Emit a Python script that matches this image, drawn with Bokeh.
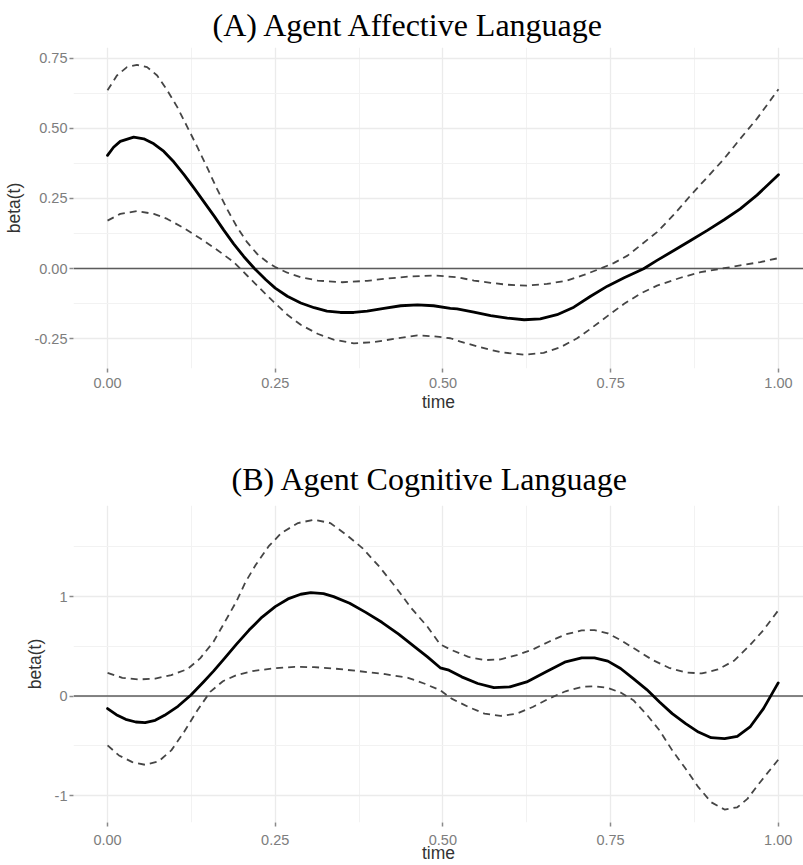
from bokeh.plotting import figure
from bokeh.layouts import column
from bokeh.models import Range1d, FixedTicker, Span, Title
from bokeh.embed import file_html
from bokeh.resources import INLINE

# ---------------- Panel A: Agent Affective Language ----------------
a_title = "(A) Agent Affective Language"

a_mean_t = [0.000, 0.009, 0.019, 0.039, 0.054, 0.069, 0.084, 0.099, 0.114, 0.129,
            0.144, 0.159, 0.173, 0.188, 0.203, 0.219, 0.236, 0.250, 0.268, 0.288,
            0.308, 0.327, 0.347, 0.367, 0.387, 0.412, 0.437, 0.462, 0.486, 0.511,
            0.521, 0.546, 0.571, 0.596, 0.621, 0.645, 0.670, 0.695, 0.720, 0.745,
            0.770, 0.799, 0.819, 0.844, 0.869, 0.894, 0.919, 0.943, 0.968, 1.000]
a_mean_v = [0.404, 0.433, 0.454, 0.469, 0.463, 0.445, 0.418, 0.380, 0.335, 0.287,
            0.237, 0.187, 0.138, 0.088, 0.043, 0.000, -0.040, -0.070, -0.099, -0.123,
            -0.140, -0.152, -0.157, -0.157, -0.152, -0.142, -0.133, -0.130, -0.133, -0.142,
            -0.144, -0.156, -0.168, -0.177, -0.183, -0.180, -0.165, -0.138, -0.099, -0.063,
            -0.033, -0.001, 0.029, 0.064, 0.100, 0.136, 0.174, 0.213, 0.262, 0.335]

a_upper_t = [0.000, 0.014, 0.029, 0.044, 0.059, 0.074, 0.089, 0.104, 0.119, 0.134,
             0.149, 0.163, 0.178, 0.193, 0.208, 0.223, 0.238, 0.250, 0.268, 0.288,
             0.313, 0.350, 0.387, 0.412, 0.449, 0.486, 0.521, 0.546, 0.571, 0.596,
             0.625, 0.655, 0.685, 0.710, 0.735, 0.755, 0.775, 0.794, 0.819, 0.844,
             0.869, 0.894, 0.919, 0.943, 0.968, 1.000]
a_upper_v = [0.636, 0.689, 0.719, 0.727, 0.719, 0.689, 0.636, 0.576, 0.505, 0.433,
             0.358, 0.285, 0.213, 0.148, 0.094, 0.052, 0.023, 0.005, -0.015, -0.031,
             -0.043, -0.049, -0.044, -0.037, -0.029, -0.025, -0.031, -0.043, -0.051, -0.058,
             -0.061, -0.055, -0.043, -0.023, 0.000, 0.020, 0.046, 0.082, 0.130, 0.192,
             0.261, 0.326, 0.392, 0.463, 0.535, 0.640]

a_lower_t = [0.000, 0.019, 0.044, 0.069, 0.089, 0.114, 0.139, 0.163, 0.188, 0.208,
             0.228, 0.248, 0.268, 0.288, 0.313, 0.337, 0.367, 0.397, 0.427, 0.462,
             0.486, 0.511, 0.526, 0.556, 0.586, 0.621, 0.650, 0.675, 0.700, 0.720,
             0.745, 0.770, 0.794, 0.819, 0.854, 0.884, 0.919, 0.943, 0.973, 1.000]
a_lower_v = [0.171, 0.195, 0.205, 0.195, 0.177, 0.144, 0.106, 0.067, 0.023, -0.025,
             -0.073, -0.120, -0.165, -0.201, -0.233, -0.254, -0.267, -0.263, -0.251, -0.239,
             -0.242, -0.249, -0.261, -0.281, -0.299, -0.308, -0.301, -0.281, -0.249, -0.215,
             -0.170, -0.126, -0.090, -0.061, -0.033, -0.013, 0.001, 0.011, 0.023, 0.037]

a_y_ticks = [-0.25, 0.0, 0.25, 0.50, 0.75]
a_y_labels = ["-0.25", "0.00", "0.25", "0.50", "0.75"]
a_y_minor = [-0.125, 0.125, 0.375, 0.625]

# ---------------- Panel B: Agent Cognitive Language ----------------
b_title = "(B) Agent Cognitive Language"

b_mean_t = [0.000, 0.013, 0.027, 0.042, 0.056, 0.071, 0.085, 0.105, 0.124, 0.143,
            0.158, 0.175, 0.192, 0.211, 0.230, 0.250, 0.269, 0.288, 0.303, 0.322,
            0.337, 0.361, 0.385, 0.409, 0.434, 0.458, 0.477, 0.496, 0.509, 0.528,
            0.552, 0.576, 0.600, 0.625, 0.654, 0.683, 0.707, 0.726, 0.746, 0.765,
            0.784, 0.804, 0.823, 0.842, 0.862, 0.881, 0.900, 0.920, 0.939, 0.958,
            0.978, 1.000]
b_mean_v = [-0.126, -0.187, -0.234, -0.261, -0.267, -0.244, -0.194, -0.103, 0.008, 0.142,
            0.250, 0.384, 0.519, 0.663, 0.791, 0.899, 0.976, 1.023, 1.040, 1.030,
            0.999, 0.932, 0.841, 0.741, 0.623, 0.495, 0.394, 0.284, 0.260, 0.193,
            0.126, 0.085, 0.092, 0.142, 0.243, 0.344, 0.384, 0.384, 0.351, 0.277,
            0.176, 0.065, -0.059, -0.177, -0.278, -0.362, -0.419, -0.429, -0.405, -0.311,
            -0.126, 0.132]

b_upper_t = [0.000, 0.022, 0.046, 0.071, 0.095, 0.119, 0.138, 0.158, 0.175, 0.192,
             0.206, 0.221, 0.240, 0.259, 0.284, 0.308, 0.332, 0.356, 0.380, 0.405,
             0.429, 0.453, 0.477, 0.496, 0.513, 0.538, 0.562, 0.586, 0.610, 0.634,
             0.658, 0.683, 0.707, 0.726, 0.746, 0.765, 0.789, 0.813, 0.837, 0.862,
             0.886, 0.910, 0.934, 0.958, 0.978, 1.000]
b_upper_v = [0.233, 0.183, 0.166, 0.176, 0.210, 0.270, 0.378, 0.546, 0.747, 0.949,
             1.150, 1.319, 1.503, 1.638, 1.739, 1.772, 1.739, 1.621, 1.487, 1.302,
             1.100, 0.882, 0.697, 0.519, 0.462, 0.394, 0.361, 0.368, 0.411, 0.468,
             0.546, 0.620, 0.660, 0.663, 0.630, 0.563, 0.462, 0.361, 0.284, 0.237,
             0.227, 0.267, 0.354, 0.512, 0.663, 0.860]

b_lower_t = [0.000, 0.017, 0.037, 0.056, 0.076, 0.095, 0.114, 0.134, 0.153, 0.172,
             0.192, 0.216, 0.245, 0.279, 0.308, 0.337, 0.375, 0.414, 0.448, 0.472,
             0.496, 0.513, 0.538, 0.562, 0.586, 0.610, 0.634, 0.658, 0.683, 0.707,
             0.726, 0.746, 0.765, 0.784, 0.804, 0.823, 0.842, 0.862, 0.881, 0.900,
             0.920, 0.939, 0.954, 0.973, 1.000]
b_lower_v = [-0.496, -0.597, -0.664, -0.691, -0.657, -0.546, -0.362, -0.143, 0.042, 0.149,
             0.210, 0.250, 0.277, 0.294, 0.290, 0.277, 0.250, 0.220, 0.183, 0.126,
             0.058, -0.026, -0.110, -0.177, -0.200, -0.177, -0.110, -0.026, 0.048, 0.092,
             0.099, 0.082, 0.035, -0.042, -0.187, -0.345, -0.546, -0.731, -0.916, -1.067,
             -1.141, -1.118, -1.034, -0.866, -0.640]

b_y_ticks = [-1, 0, 1]
b_y_labels = ["-1", "0", "1"]
b_y_minor = [-0.5, 0.5, 1.5]

# shared time axis
x_ticks = [0.0, 0.25, 0.50, 0.75, 1.0]
x_labels = ["0.00", "0.25", "0.50", "0.75", "1.00"]
x_minor = [0.125, 0.375, 0.625, 0.875]

SANS = "Liberation Sans"
SERIF = "Liberation Serif"
TICK_COLOR = "#7d7d7d"


def panel(title, mean_t, mean_v, up_t, up_v, lo_t, lo_v,
          y_ticks, y_labels, y_minor, x_range, y_range,
          height, border_left, border_top, border_bottom,
          title_offset, title_standoff, x_label_standoff, x_title_standoff):
    p = figure(width=803, height=height, x_range=Range1d(*x_range),
               y_range=Range1d(*y_range), output_backend="svg",
               toolbar_location=None, min_border_left=border_left,
               min_border_right=0, min_border_top=border_top,
               min_border_bottom=border_bottom)
    p.title = Title(text=title, text_font=SERIF, text_font_size="32px",
                    text_font_style="normal", text_color="#000000",
                    align="left", offset=title_offset, standoff=title_standoff)
    p.outline_line_color = None
    p.background_fill_color = "white"
    p.border_fill_color = "white"

    p.xaxis.ticker = FixedTicker(ticks=x_ticks, minor_ticks=x_minor)
    p.yaxis.ticker = FixedTicker(ticks=y_ticks, minor_ticks=y_minor)
    p.xaxis.major_label_overrides = dict(zip(x_ticks, x_labels))
    p.yaxis.major_label_overrides = dict(zip(y_ticks, y_labels))

    for ax in (p.xaxis[0], p.yaxis[0]):
        ax.axis_line_color = None
        ax.major_tick_line_color = "#8a8a8a"
        ax.major_tick_line_width = 1.5
        ax.major_tick_in = 0
        ax.major_tick_out = 4
        ax.minor_tick_line_color = None
        ax.major_label_text_font = SANS
        ax.major_label_text_font_size = "14.5px"
        ax.major_label_text_color = TICK_COLOR
        ax.major_label_text_line_height = 1.0
        ax.axis_label_text_font = SANS
        ax.axis_label_text_font_size = "17.5px"
        ax.axis_label_text_font_style = "normal"
        ax.axis_label_text_color = "#333333"
        ax.axis_label_text_line_height = 1.0
    p.xaxis.axis_label = "time"
    p.yaxis.axis_label = "beta(t)"
    p.xaxis.major_label_standoff = x_label_standoff
    p.xaxis.axis_label_standoff = x_title_standoff
    p.yaxis.major_label_standoff = 2
    p.yaxis.axis_label_standoff = 7

    for g in (p.xgrid[0], p.ygrid[0]):
        g.grid_line_color = "#ebebeb"
        g.grid_line_width = 1.3
        g.minor_grid_line_color = "#f2f2f2"
        g.minor_grid_line_width = 1.0

    p.add_layout(Span(location=0, dimension="width", line_color="#5c5c5c",
                      line_width=1.6, level="underlay"))

    dash = dict(line_color="#454545", line_width=1.8, line_dash="7 5",
                line_join="round")
    p.line(up_t, up_v, **dash)
    p.line(lo_t, lo_v, **dash)
    p.line(mean_t, mean_v, line_color="black", line_width=2.8,
           line_join="round", line_cap="round")
    return p


pa = panel(a_title, a_mean_t, a_mean_v, a_upper_t, a_upper_v, a_lower_t, a_lower_v,
           a_y_ticks, a_y_labels, a_y_minor,
           x_range=(-0.0507, 1.0373), y_range=(-0.357, 0.789),
           height=420, border_left=73, border_top=47, border_bottom=52,
           title_offset=139, title_standoff=9,
           x_label_standoff=5, x_title_standoff=1)

pb = panel(b_title, b_mean_t, b_mean_v, b_upper_t, b_upper_v, b_lower_t, b_lower_v,
           b_y_ticks, b_y_labels, b_y_minor,
           x_range=(-0.0508, 1.0377), y_range=(-1.271, 1.915),
           height=445, border_left=53, border_top=85, border_bottom=43,
           title_offset=158, title_standoff=17,
           x_label_standoff=8, x_title_standoff=-5)

layout = column(pa, pb, spacing=0)
open("out.html", "w").write(file_html(layout, INLINE))
